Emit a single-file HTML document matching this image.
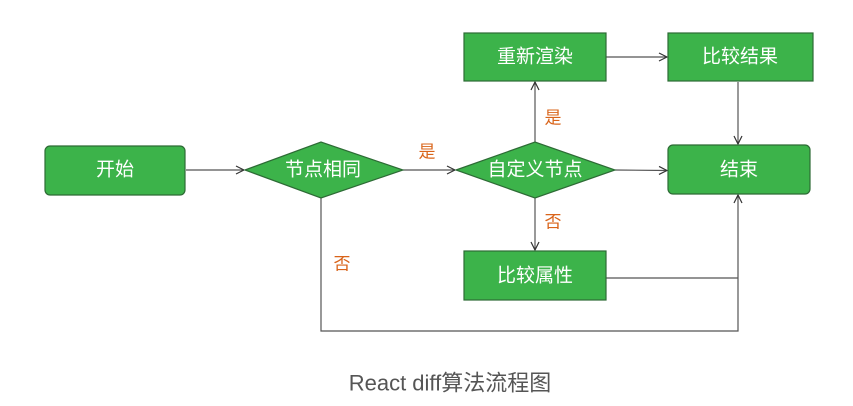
<!DOCTYPE html>
<html><head><meta charset="utf-8"><style>
body{margin:0;background:#fff;width:853px;height:401px;overflow:hidden}
svg text{font-family:"Liberation Sans","Noto Sans CJK SC",sans-serif}
</style></head><body>
<svg width="853" height="401" viewBox="0 0 853 401">
<defs><marker id="a" markerWidth="10" markerHeight="10" refX="9" refY="5" orient="auto" markerUnits="userSpaceOnUse"><path d="M1,1 L9,5 L1,9" fill="none" stroke="#333" stroke-width="1.2"/></marker></defs>
<g stroke="#555" stroke-width="1.2" fill="none">
<line x1="186" y1="170" x2="244" y2="170" marker-end="url(#a)"/>
<line x1="403" y1="170" x2="455" y2="170" marker-end="url(#a)"/>
<line x1="615" y1="170" x2="667" y2="170.5" marker-end="url(#a)"/>
<line x1="535" y1="142" x2="535" y2="82" marker-end="url(#a)"/>
<line x1="535" y1="198" x2="535" y2="250" marker-end="url(#a)"/>
<line x1="606" y1="57" x2="667" y2="57" marker-end="url(#a)"/>
<line x1="738" y1="82" x2="738" y2="144" marker-end="url(#a)"/>
<polyline points="321,198 321,331 738,331 738,195" marker-end="url(#a)"/>
<polyline points="606,278 738,278"/>
</g>
<g fill="#3cb34a" stroke="#2d6b35" stroke-width="1.2">
<rect x="45" y="146" width="140" height="49" rx="5"/>
<rect x="668" y="145" width="142" height="49" rx="5"/>
<rect x="464" y="33" width="142" height="48"/>
<rect x="668" y="33" width="145" height="48"/>
<rect x="464" y="251" width="142" height="49"/>
<polygon points="245,170 321,142 403,170 321,198"/>
<polygon points="456,170 535,142 615,170 535,198"/>
</g>
<g fill="#fff" font-size="19" text-anchor="middle" dominant-baseline="central">
<text x="115" y="170">开始</text>
<text x="739" y="170">结束</text>
<text x="535" y="57">重新渲染</text>
<text x="740" y="57">比较结果</text>
<text x="535" y="276">比较属性</text>
<text x="323" y="170">节点相同</text>
<text x="535" y="170">自定义节点</text>
</g>
<g fill="#d9641a" font-size="17" text-anchor="middle" dominant-baseline="central">
<text x="427" y="152">是</text>
<text x="553" y="118">是</text>
<text x="553" y="222">否</text>
<text x="342" y="264">否</text>
</g>
<text x="450" y="383" font-size="22" fill="#555" text-anchor="middle" dominant-baseline="central">React diff算法流程图</text>
</svg>
</body></html>
